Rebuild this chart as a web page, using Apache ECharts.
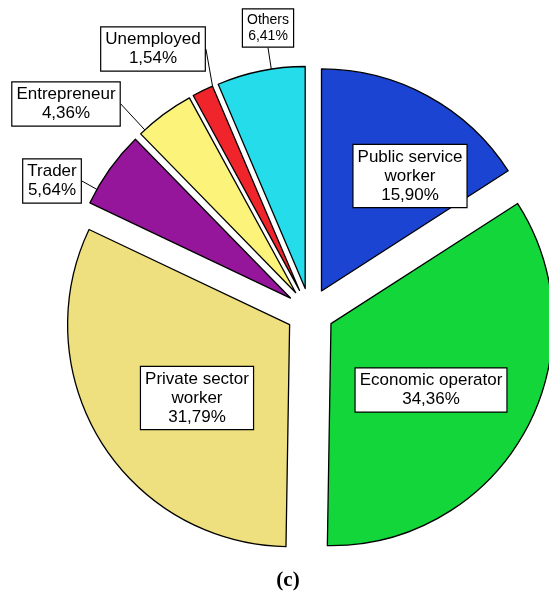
<!DOCTYPE html>
<html>
<head>
<meta charset="utf-8">
<script src="https://cdn.jsdelivr.net/npm/echarts@6/dist/echarts.min.js"></script>
<style>
  html, body { margin: 0; padding: 0; background: #ffffff; }
  #chart { width: 549px; height: 596px; }
</style>
</head>
<body>
<div id="chart"></div>
<script>
// Occupation shares (%), clockwise from 12 o'clock
const categories = [
  'Public service\nworker',
  'Economic operator',
  'Private sector\nworker',
  'Trader',
  'Entrepreneur',
  'Unemployed',
  'Others'
];
const shares = [15.90, 34.36, 31.79, 5.64, 4.36, 1.54, 6.41];

// Styling
const sliceColors = ['#1c44d2', '#12d63a', '#efe07f', '#95169b', '#fbf37a', '#f0252b', '#24dcea'];
const insideSlices = [true, true, true, false, false, false, false];
// where each label box is centred
const labelPos = [[410, 176], [431, 390], [197, 398], [52, 181], [66, 104], [153, 49], [268, 28]];

const PIE_CENTER = [310, 312];
const PIE_RADIUS = 222;
const EXPLODE = 24;   // every slice is pulled out from the centre by this much

const fmtPct = v => v.toFixed(2).replace('.', ',') + '%';

const boxLabel = size => ({
  show: true,
  position: 'inside',
  formatter: p => p.name + '\n' + fmtPct(p.value),
  color: '#000000',
  fontFamily: 'Liberation Sans, Arial, sans-serif',
  fontSize: size,
  lineHeight: size + 2,
  align: 'center',
  backgroundColor: '#ffffff',
  borderColor: '#000000',
  borderWidth: 1.2,
  padding: [3, 4, 2, 4]
});

// One pie per slice: the full ring is laid out by ECharts, only slice i is painted,
// and the pie is shifted outwards along that slice's bisector.
const total = shares.reduce((a, b) => a + b, 0);
let before = 0;
const series = shares.map((share, i) => {
  const mid = (before + share / 2) / total * 2 * Math.PI;
  before += share;
  const center = [PIE_CENTER[0] + EXPLODE * Math.sin(mid), PIE_CENTER[1] - EXPLODE * Math.cos(mid)];
  return {
    type: 'pie',
    center: center,
    radius: PIE_RADIUS,
    startAngle: 90,
    clockwise: true,
    silent: true,
    avoidLabelOverlap: false,
    emphasis: { disabled: true },
    labelLine: { length: 0, length2: 0, lineStyle: { color: '#000000', width: 1 } },
    labelLayout: p => (p.dataIndex === i
      ? { x: labelPos[i][0], y: labelPos[i][1], align: 'center', verticalAlign: 'middle' }
      : {}),
    data: categories.map((name, j) => j === i
      ? {
          name: name,
          value: shares[j],
          itemStyle: { color: sliceColors[j], borderColor: '#000000', borderWidth: 1.3 },
          label: boxLabel(name === 'Others' ? 14 : 17),
          labelLine: { show: !insideSlices[j] }
        }
      : {
          name: name,
          value: shares[j],
          itemStyle: { color: 'rgba(0,0,0,0)', borderWidth: 0 },
          label: { show: false },
          labelLine: { show: false }
        })
  };
});

const chart = echarts.init(document.getElementById('chart'), null, { renderer: 'canvas' });
chart.setOption({
  backgroundColor: '#ffffff',
  animation: false,
  title: {
    text: '(c)',
    left: 283,
    top: 565,
    textAlign: 'center',
    textStyle: { fontFamily: 'Liberation Serif, Times New Roman, serif', fontWeight: 'bold', fontSize: 21, color: '#000000' }
  },
  series: series
});
</script>
</body>
</html>
